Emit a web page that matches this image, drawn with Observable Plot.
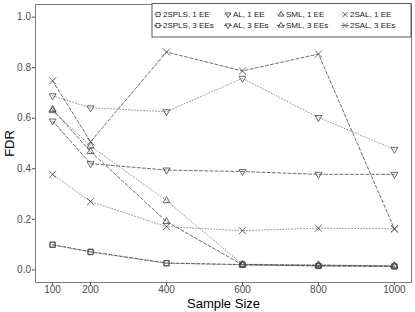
<!DOCTYPE html>
<html><head><meta charset="utf-8">
<script src="https://cdn.jsdelivr.net/npm/d3@7"></script>
<script src="https://cdn.jsdelivr.net/npm/@observablehq/plot@0.6"></script>
<style>body{margin:0;background:#fff}</style>
</head><body><div id="chart"></div>
<script>
// ---- data ----
const sampleSizes = [100, 200, 400, 600, 800, 1000];
const yTicks = [0, 0.2, 0.4, 0.6, 0.8, 1.0];
const methods = ["2SPLS", "AL", "SML", "2SAL"];
const eeLevels = ["1 EE", "3 EEs"];
const spls1 = [0.100, 0.070, 0.026, 0.020, 0.015, 0.013];
const spls3 = [0.099, 0.072, 0.027, 0.021, 0.016, 0.014];
const al1   = [0.689, 0.641, 0.626, 0.758, 0.603, 0.477];
const al3   = [0.589, 0.420, 0.395, 0.389, 0.378, 0.378];
const sml1  = [0.630, 0.490, 0.274, 0.022, 0.020, 0.016];
const sml3  = [0.635, 0.468, 0.191, 0.020, 0.018, 0.015];
const sal1  = [0.378, 0.270, 0.171, 0.155, 0.165, 0.162];
const sal3  = [0.748, 0.507, 0.862, 0.787, 0.854, 0.162];

const seriesList = [
  {method: "2SPLS", ee: "1 EE", values: spls1},
  {method: "2SPLS", ee: "3 EEs", values: spls3},
  {method: "AL", ee: "1 EE", values: al1},
  {method: "AL", ee: "3 EEs", values: al3},
  {method: "SML", ee: "1 EE", values: sml1},
  {method: "SML", ee: "3 EEs", values: sml3},
  {method: "2SAL", ee: "1 EE", values: sal1},
  {method: "2SAL", ee: "3 EEs", values: sal3}
];
const rows = seriesList.flatMap(s => s.values.map((v, i) => ({
  size: sampleSizes[i], fdr: v, method: s.method, ee: s.ee, key: s.method + ", " + s.ee
})));

// ---- styles ----
const symbolOf = {"2SPLS": "square2", "AL": "triangle2", "SML": "triangle2", "2SAL": "times"};
const d3SymbolOf = {"2SPLS": d3.symbolSquare2, "AL": d3.symbolTriangle2, "SML": d3.symbolTriangle2, "2SAL": d3.symbolTimes};
const rotateOf = {"2SPLS": 0, "AL": 180, "SML": 0, "2SAL": 0};
const lineStyle = {
  "1 EE": {dash: "1,2", color: "#777", width: 0.75},
  "3 EEs": {dash: "3,2.2", color: "#3a3a3a", width: 0.75}
};
const font = "'Liberation Sans', Arial, Helvetica, sans-serif";
const markR = 3.3;

const marks = [
  Plot.frame({stroke: "#7f7f7f", strokeWidth: 1}),
  ...eeLevels.map(ee => Plot.line(rows.filter(d => d.ee === ee), {
    x: "size", y: "fdr", z: "key",
    stroke: lineStyle[ee].color, strokeWidth: lineStyle[ee].width,
    strokeDasharray: lineStyle[ee].dash
  })),
  ...methods.map(m => Plot.dot(rows.filter(d => d.method === m), {
    x: "size", y: "fdr", symbol: symbolOf[m], rotate: rotateOf[m],
    r: markR, stroke: "#444", strokeWidth: 0.8, fill: "none"
  })),
  Plot.axisX({ticks: sampleSizes, tickFormat: d3.format("d"), tickSize: 3, tickPadding: 0, stroke: "#555",
    fill: "#4d4d4d", fontSize: 10, label: null}),
  Plot.axisY({ticks: yTicks, tickFormat: d3.format(".1f"), tickSize: 3, tickPadding: 1.5,
    stroke: "#555", fill: "#4d4d4d", fontSize: 10, label: null}),
  Plot.text(["FDR"], {frameAnchor: "left", dx: -26, rotate: -90, textAnchor: "middle", lineAnchor: "middle",
    fontSize: 13, fill: "#000"}),
  Plot.text(["Sample Size"], {frameAnchor: "bottom", dy: 21.5, textAnchor: "middle", lineAnchor: "middle",
    fontSize: 13, fill: "#000"})
];

const chart = Plot.plot({
  width: 415, height: 312,
  marginLeft: 35, marginRight: 4, marginTop: 4, marginBottom: 30,
  style: {fontFamily: font, background: "#fff"},
  x: {domain: [55, 1045]},
  y: {domain: [-0.05, 1.05]},
  marks
});
document.getElementById("chart").appendChild(chart);

// ---- legend (inside panel, top right) ----
const svg = d3.select(chart);
const lg = svg.append("g").attr("font-family", font).attr("font-size", 8).attr("text-anchor", "start");
lg.append("rect").attr("x", 152).attr("y", 3.5).attr("width", 259).attr("height", 33.5)
  .attr("fill", "#fff").attr("stroke", "#333").attr("stroke-width", 0.8);
const colX = {"2SPLS": 158, "AL": 228, "SML": 281, "2SAL": 345};
const rowY = {"1 EE": 14.5, "3 EEs": 25.5};
methods.forEach(m => eeLevels.forEach(ee => {
  const cx = colX[m], cy = rowY[ee], st = lineStyle[ee];
  lg.append("line").attr("x1", cx - 4).attr("x2", cx + 4).attr("y1", cy).attr("y2", cy)
    .attr("stroke", st.color).attr("stroke-width", st.width).attr("stroke-dasharray", st.dash);
  lg.append("path").attr("d", d3.symbol(d3SymbolOf[m], Math.PI * 2.6 * 2.6)())
    .attr("transform", `translate(${cx},${cy}) rotate(${rotateOf[m]})`)
    .attr("fill", "none").attr("stroke", "#333").attr("stroke-width", 0.8);
  lg.append("text").attr("x", cx + 5).attr("y", cy).attr("dy", "0.35em")
    .attr("fill", "#1a1a1a").text(m + ", " + ee);
}));
</script>
</body></html>
